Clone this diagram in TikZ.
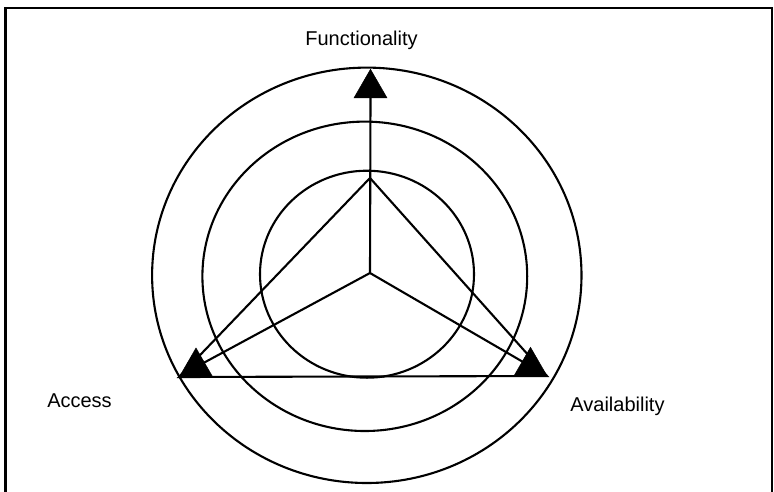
\documentclass[tikz,border=0pt]{standalone}
\usepackage{fontspec}
\setmainfont{Liberation Sans}
\usetikzlibrary{positioning,shapes.geometric}

\begin{document}
\begin{tikzpicture}[x=1pt,y=-1pt,
  ring/.style={draw,line width=2.1pt},
  edge/.style={line width=2.1pt},
  marker/.style={regular polygon,regular polygon sides=3,fill,draw,
    minimum size=38pt,inner sep=0pt,outer sep=0pt,line width=0.5pt},
  lbl/.style={font=\fontsize{20}{24}\selectfont,anchor=base}]
  \useasboundingbox (0,0) rectangle (774,491);
  % frame, open at the bottom
  \draw[line width=2.6pt] (5.3,495) -- (5.3,8) -- (772,8) -- (772,495);
  % rings
  \draw[ring] (366.8,275.3) ellipse (214.7 and 207.7);
  \draw[ring] (364.8,276.3) ellipse (162.4 and 154.7);
  \draw[ring] (367,274.2) ellipse (107 and 103.5);
  % corners and hub
  \coordinate (hub) at (370,273);
  \coordinate (apex) at (370,178);
  \coordinate (left) at (179,377);
  \coordinate (right) at (547,376);
  % triangle markers
  \node[marker] (func) at (370.5,88.3) {};
  \node[marker] (acc) at (196,367) {};
  \node[marker] (avail) at (530.5,366.3) {};
  % lines
  \draw[edge] (hub) -- (func.south);
  \draw[edge] (hub) -- (acc.center);
  \draw[edge] (hub) -- (avail.center);
  \draw[edge] (left) -- (apex) -- (right) -- cycle;
  % labels
  \node[lbl] (tfunc) at (361.5,45) {Functionality};
  \node[lbl] (tacc) at (79.5,407) {Access};
  \node[lbl] (tavail) at (617.5,411) {Availability};
\end{tikzpicture}
\end{document}
